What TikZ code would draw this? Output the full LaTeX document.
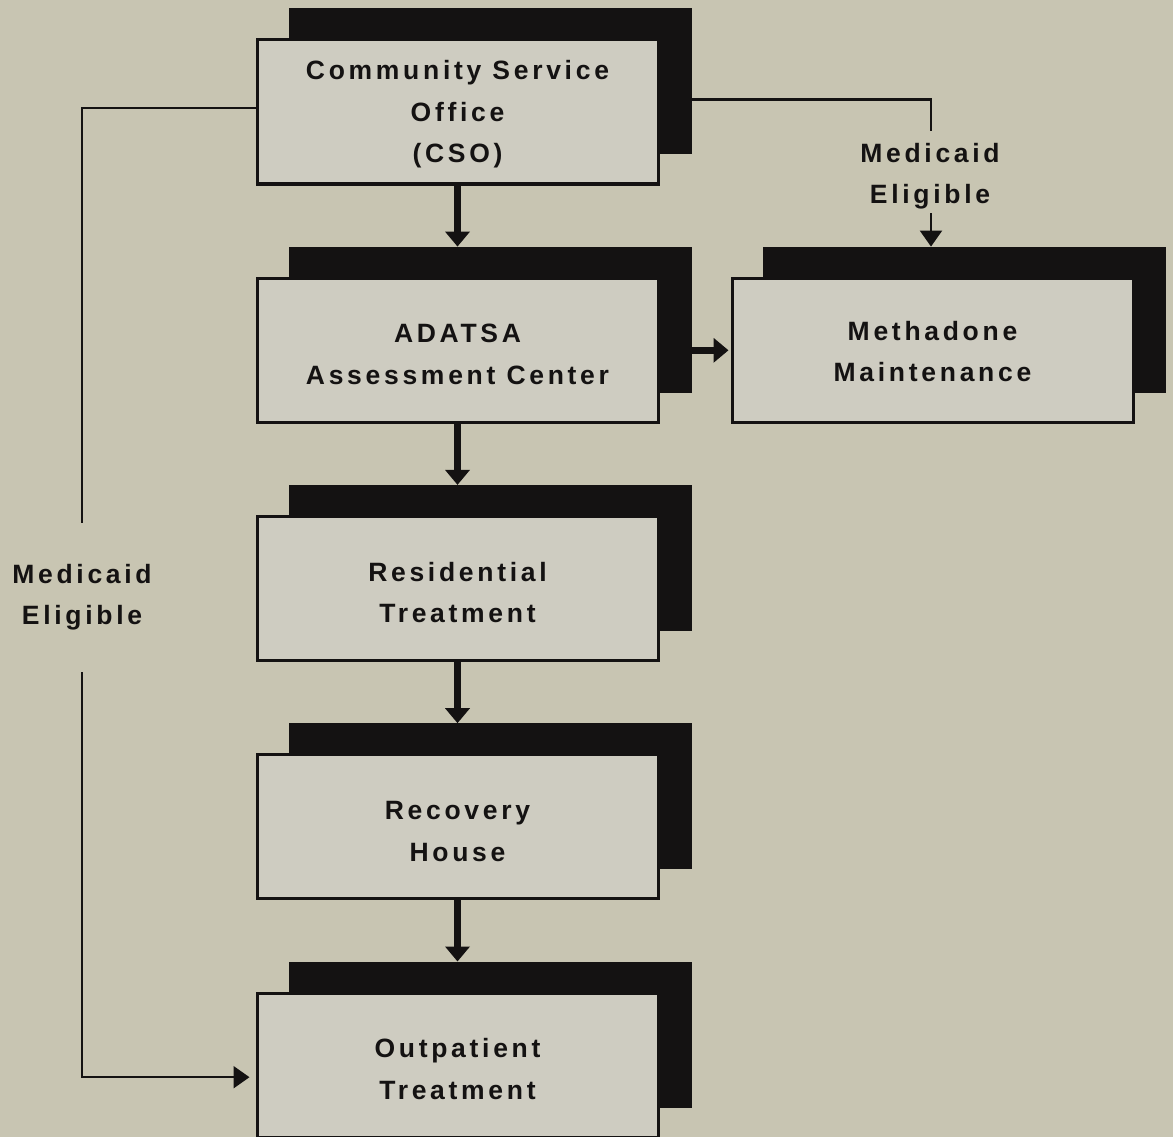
\documentclass[tikz,border=0pt]{standalone}
\usepackage{fontspec}
\setmainfont{Liberation Sans}
\newfontfamily\lbl{Liberation Sans}[LetterSpace=14]
\usetikzlibrary{arrows.meta,calc}
\definecolor{bg}{RGB}{200,197,178}
\definecolor{boxfill}{RGB}{206,204,193}
\definecolor{ink}{RGB}{20,18,18}
\newcommand\toppad{\rule{0pt}{27pt}}
\begin{document}
\begin{tikzpicture}[x=1pt,y=-1pt,
  txt/.style={font=\lbl\bfseries\fontsize{26.5}{41.5}\selectfont, text=ink, align=center},
  card/.style={txt, draw=ink, line width=3pt, fill=boxfill, minimum width=401pt, minimum height=144pt, inner sep=0pt},
  shade/.style={fill=ink, draw=none, minimum width=403pt, minimum height=146pt, inner sep=0pt},
  bigarrow/.style={draw=ink, line width=7pt, -{Triangle[width=24pt,length=15pt]}},
  thinline/.style={draw=ink, line width=2.2pt},
  thinarrow/.style={thinline, -{Triangle[width=22pt,length=16pt]}},
  lab/.style={txt, inner sep=0pt}
]
\fill[bg] (0,0) rectangle (1173,1137);
\useasboundingbox (0,0) rectangle (1173,1137);

% shadows
\node[shade] (cso-sh)  at (490,81.5) {};
\node[shade] (adatsa-sh) at (490,319.8) {};
\node[shade] (res-sh)  at (490,558.1) {};
\node[shade] (rec-sh)  at (490,796.4) {};
\node[shade] (outp-sh) at (490,1034.7) {};
\node[shade] (meth-sh) at (964,319.8) {};

% front boxes
\node[card] (cso)    at (457.5,112)    {\rule{0pt}{24pt}Community Service\\Office\\(CSO)};
\node[card] (adatsa) at (457.5,350.3)  {\toppad ADATSA\\Assessment Center};
\node[card] (res)    at (457.5,588.6)  {\toppad Residential\\Treatment};
\node[card] (rec)    at (457.5,826.9)  {\toppad Recovery\\House};
\node[card] (outp)   at (457.5,1065.2) {\toppad Outpatient\\Treatment};
\node[card] (meth)   at (932.5,350.3)  {\rule{0pt}{22pt}Methadone\\Maintenance};

% main flow arrows
\draw[bigarrow] (cso.south) -- (cso.south |- adatsa-sh.north);
\draw[bigarrow] (adatsa.south) -- (adatsa.south |- res-sh.north);
\draw[bigarrow] (res.south) -- (res.south |- rec-sh.north);
\draw[bigarrow] (rec.south) -- (rec.south |- outp-sh.north);
\draw[bigarrow] (adatsa.east -| adatsa-sh.east) -- ($(meth.west)+(-2,0)$);

% Medicaid eligible -> methadone
\node[lab] (mlab) at (930,176) {Medicaid\\Eligible};
\coordinate (mtop) at (931,131);
\coordinate (mbot) at (931,213);
\draw[thinline] ($(cso-sh.east)+(0,18)$) -| (mtop);
\draw[thinarrow] (mbot) -- (mbot |- meth-sh.north);

% Medicaid eligible -> outpatient
\node[lab] (llab) at (82,597) {Medicaid\\Eligible};
\coordinate (ltop) at (82,523);
\coordinate (lbot) at (82,672);
\draw[thinline] ($(cso.west)+(0,-4)$) -| (ltop);
\draw[thinarrow] (lbot) |- ($(outp.west)+(-6,12)$);
\end{tikzpicture}
\end{document}
